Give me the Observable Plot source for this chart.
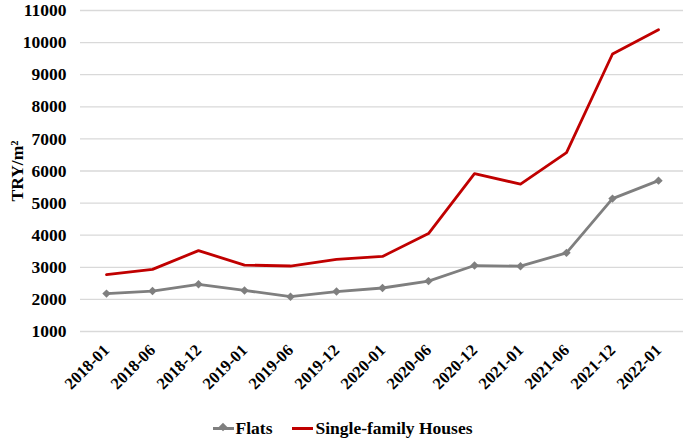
<!DOCTYPE html>
<html>
<head>
<meta charset="utf-8">
<script src="https://cdn.jsdelivr.net/npm/d3@7"></script>
<script src="https://cdn.jsdelivr.net/npm/@observablehq/plot@0.6"></script>
<style>
  html, body { margin: 0; padding: 0; background: #fff; }
  #wrap { width: 685px; height: 440px; position: relative; font-family: "Liberation Serif", "Times New Roman", serif; }
  #legend { position: absolute; left: 0; top: 416px; width: 685px; display: flex; justify-content: center; align-items: center; font-weight: bold; font-size: 17.5px; color: #000; line-height: 24px; }
  .item { display: flex; align-items: center; margin: 0 10px; }
  .sw { position: relative; width: 21px; height: 3px; margin-right: 2px; }
</style>
</head>
<body>
<div id="wrap"></div>
<script>
const periods = ["2018-01","2018-06","2018-12","2019-01","2019-06","2019-12","2020-01","2020-06","2020-12","2021-01","2021-06","2021-12","2022-01"];
const flats = [2180, 2260, 2470, 2280, 2085, 2245, 2355, 2570, 3055, 3035, 3450, 5140, 5700];
const houses = [2770, 2935, 3520, 3070, 3040, 3245, 3340, 4050, 5920, 5590, 6570, 9645, 10400];
const yTicks = [1000, 2000, 3000, 4000, 5000, 6000, 7000, 8000, 9000, 10000, 11000];
const seriesNames = ["Flats", "Single-family Houses"];
const seriesColors = ["#7f7f7f", "#c00000"];

const rows = [];
periods.forEach((p, i) => {
  rows.push({period: p, value: flats[i], series: seriesNames[0]});
  rows.push({period: p, value: houses[i], series: seriesNames[1]});
});

const chart = Plot.plot({
  width: 685,
  height: 406,
  marginTop: 10,
  marginBottom: 75,
  marginLeft: 80,
  marginRight: 2,
  style: {fontFamily: '"Liberation Serif", "Times New Roman", serif', fontWeight: "bold", fontSize: "17px", color: "#000", background: "#fff"},
  x: {type: "point", domain: periods, padding: 0.5},
  y: {domain: [1000, 11000]},
  color: {domain: seriesNames, range: seriesColors},
  marks: [
    Plot.gridY(yTicks, {stroke: "#d9d9d9", strokeOpacity: 1, strokeWidth: 1.3}),
    Plot.axisY(yTicks, {tickSize: 0, tickPadding: 14, fontSize: 17.5, fontWeight: "bold", tickFormat: d3.format("d"), label: "TRY/m²", labelAnchor: "center", labelArrow: "none", labelOffset: 70}),
    Plot.axisX({tickSize: 0, tickRotate: -45, tickPadding: 16, fontSize: 16.5, fontWeight: "bold", label: null}),
    Plot.line(rows, {x: "period", y: "value", stroke: "series", strokeWidth: 2.8, curve: "linear"}),
    Plot.dot(rows.filter(d => d.series === seriesNames[0]), {x: "period", y: "value", symbol: "diamond2", r: 3.8, fill: seriesColors[0], stroke: "none"})
  ]
});
document.getElementById("wrap").appendChild(chart);

const legend = document.createElement("div");
legend.id = "legend";
seriesNames.forEach((name, i) => {
  const item = document.createElement("div");
  item.className = "item";
  const sw = document.createElement("div");
  sw.className = "sw";
  sw.style.background = seriesColors[i];
  if (i === 0) {
    const dm = document.createElement("div");
    dm.style.cssText = `position:absolute;left:7px;top:-2.5px;width:6px;height:6px;background:${seriesColors[i]};transform:rotate(45deg);`;
    sw.appendChild(dm);
  }
  item.appendChild(sw);
  const t = document.createElement("span");
  t.textContent = name;
  item.appendChild(t);
  legend.appendChild(item);
});
document.getElementById("wrap").appendChild(legend);
</script>
</body>
</html>
